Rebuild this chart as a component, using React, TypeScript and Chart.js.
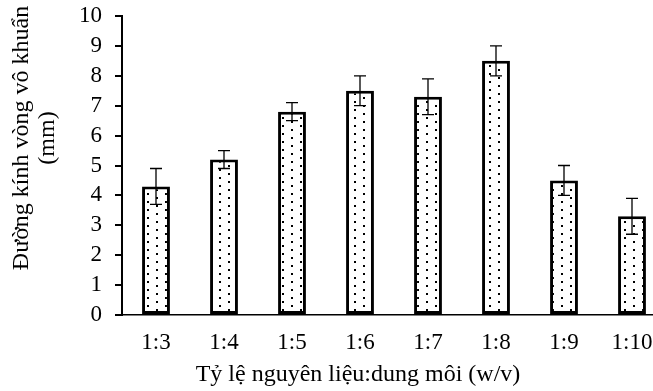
import React, { useEffect, useRef } from "react";
import { Chart, registerables } from "chart.js";

Chart.register(...registerables);

const categories = ["1:3", "1:4", "1:5", "1:6", "1:7", "1:8", "1:9", "1:10"];
const values = [4.3, 5.2, 6.8, 7.5, 7.3, 8.5, 4.5, 3.3];
const errors = [0.6, 0.3, 0.3, 0.5, 0.6, 0.5, 0.5, 0.6];
const yTitleLines = ["Đường kính vòng vô khuẩn", "(mm)"];
const xTitle = "Tỷ lệ nguyên liệu:dung môi (w/v)";

const FONT = "'Liberation Serif', 'Times New Roman', serif";

export default function App() {
  const ref = useRef<HTMLCanvasElement | null>(null);

  useEffect(() => {
    const canvas = ref.current;
    if (!canvas) return;

    const pc = document.createElement("canvas");
    pc.width = 18;
    pc.height = 8;
    const pctx = pc.getContext("2d")!;
    pctx.fillStyle = "#ffffff";
    pctx.fillRect(0, 0, 18, 8);
    pctx.fillStyle = "#000000";
    pctx.fillRect(3, 1, 2, 2);
    pctx.fillRect(12, 5, 2, 2);
    const pattern = canvas.getContext("2d")!.createPattern(pc, "repeat");

    const errorBars = {
      id: "errorBars",
      afterDatasetsDraw(chart: any) {
        const ctx = chart.ctx;
        const meta = chart.getDatasetMeta(0);
        const y = chart.scales.y;
        ctx.save();
        ctx.strokeStyle = "#000";
        ctx.lineWidth = 1.3;
        meta.data.forEach((bar: any, i: number) => {
          const x = bar.x;
          const t = y.getPixelForValue(values[i] + errors[i]);
          const b = y.getPixelForValue(values[i] - errors[i]);
          ctx.beginPath();
          ctx.moveTo(x, t);
          ctx.lineTo(x, b);
          ctx.moveTo(x - 6, t);
          ctx.lineTo(x + 6, t);
          ctx.moveTo(x - 6, b);
          ctx.lineTo(x + 6, b);
          ctx.stroke();
        });
        ctx.restore();
      },
    };

    const titles = {
      id: "titles",
      afterDraw(chart: any) {
        const ctx = chart.ctx;
        ctx.save();
        ctx.fillStyle = "#000";
        ctx.font = `24px ${FONT}`;
        ctx.textAlign = "center";
        ctx.textBaseline = "alphabetic";
        ctx.fillText(xTitle, 358, 381);
        ctx.translate(0, 138);
        ctx.rotate(-Math.PI / 2);
        ctx.fillText(yTitleLines[0], 0, 27.5);
        ctx.fillText(yTitleLines[1], 0, 54);
        ctx.restore();
      },
    };

    const chart = new Chart(canvas, {
      type: "bar",
      data: {
        labels: categories,
        datasets: [
          {
            data: values,
            backgroundColor: pattern as any,
            borderColor: "#000",
            borderWidth: 3,
            borderSkipped: false,
            barPercentage: 0.41,
            categoryPercentage: 1,
          },
        ],
      },
      options: {
        responsive: false,
        animation: false,
        devicePixelRatio: 1,
        layout: { padding: { left: 0, top: 16, right: 14, bottom: 0 } },
        plugins: { legend: { display: false }, tooltip: { enabled: false } },
        scales: {
          x: {
            grid: { display: false, drawTicks: false },
            border: { display: true, color: "#000", width: 1.5 },
            ticks: {
              color: "#000",
              padding: 16.5,
              autoSkip: false,
              maxRotation: 0,
              font: { family: FONT, size: 23, lineHeight: 1 },
            },
            afterFit(scale: any) {
              scale.height = 76;
              scale.paddingLeft = 0;
              scale.paddingRight = 0;
            },
          },
          y: {
            min: 0,
            max: 10,
            grid: {
              drawOnChartArea: false,
              drawTicks: true,
              tickLength: 7,
              color: "#000",
              lineWidth: 2,
            },
            border: { display: true, color: "#000", width: 2 },
            ticks: {
              stepSize: 1,
              autoSkip: false,
              color: "#000",
              padding: 13,
              font: { family: FONT, size: 23, lineHeight: 1 },
            },
            afterFit(scale: any) {
              scale.width = 122;
              scale.paddingTop = 0;
              scale.paddingBottom = 0;
            },
          },
        },
      },
      plugins: [errorBars, titles],
    });

    return () => chart.destroy();
  }, []);

  return (
    <div
      style={{
        position: "fixed",
        left: 0,
        top: 0,
        width: 653,
        height: 391,
        overflow: "hidden",
        background: "#fff",
      }}
    >
      <canvas ref={ref} width={680} height={391} style={{ display: "block" }} />
    </div>
  );
}
